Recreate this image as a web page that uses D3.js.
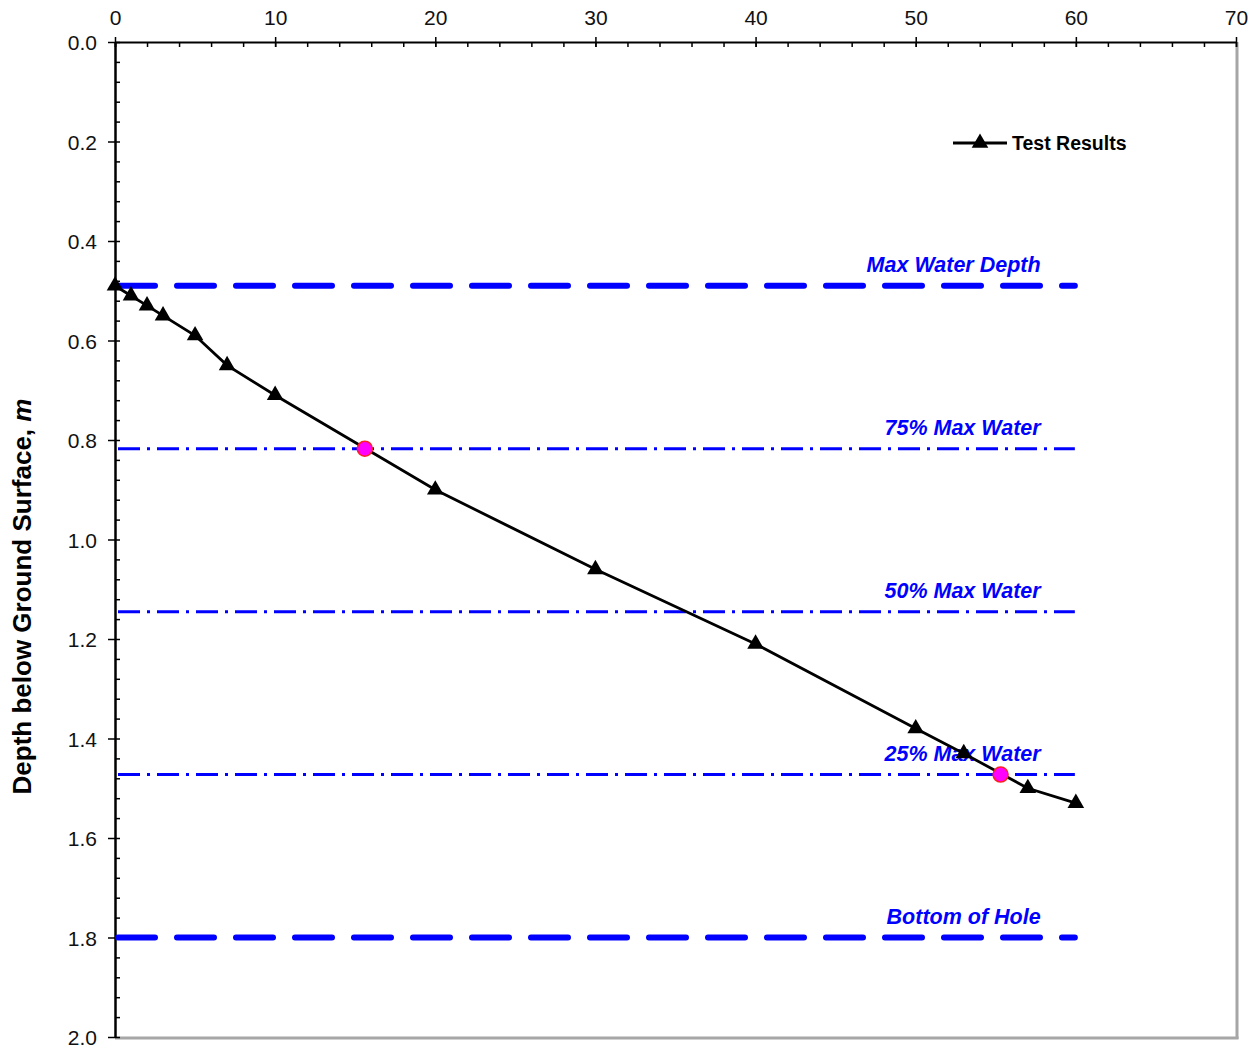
<!DOCTYPE html>
<html>
<head>
<meta charset="utf-8">
<title>Infiltration Test</title>
<style>
  body { margin: 0; background: #fff; }
  svg { font-family: "Liberation Sans", Arial, sans-serif; }
  .tick text { font-size: 21px; fill: #111; }
  .level-label { font-size: 21.5px; font-weight: bold; font-style: italic; fill: #0000ff; text-anchor: end; }
</style>
</head>
<body>
<script src="https://d3js.org/d3.v7.min.js"></script>
<script>
const width = 1258, height = 1048;

// test results: elapsed time vs depth of water surface
const times = [0, 1, 2, 3, 5, 7, 10, 20, 30, 40, 50, 53, 57, 60];
const depths = [0.49, 0.51, 0.53, 0.55, 0.59, 0.65, 0.71, 0.90, 1.06, 1.21, 1.38, 1.43, 1.50, 1.53];

// reference levels
const levelNames = ["Max Water Depth", "75% Max Water", "50% Max Water", "25% Max Water", "Bottom of Hole"];
const levelDepths = [0.49, 0.8175, 1.145, 1.4725, 1.80];
const levelStyles = ["dash", "dashdot", "dashdot", "dashdot", "dash"];
const levelEnd = 60;

// interpolated crossing points
const crossTimes = [15.6, 55.3];
const crossDepths = [0.8175, 1.4725];

const xTicks = [0, 10, 20, 30, 40, 50, 60, 70];
const yTicks = [0.0, 0.2, 0.4, 0.6, 0.8, 1.0, 1.2, 1.4, 1.6, 1.8, 2.0];

const svg = d3.select("body").append("svg")
  .attr("width", width)
  .attr("height", height);

const x = d3.scaleLinear().domain([0, 70]).range([115, 1236]);
const y = d3.scaleLinear().domain([0, 2]).range([42, 1037]);

// gray frame on right and bottom
svg.append("line")
  .attr("x1", x(70) + 1).attr("x2", x(70) + 1)
  .attr("y1", y(0)).attr("y2", y(2) + 2)
  .attr("stroke", "#a6a6a6").attr("stroke-width", 3);
svg.append("line")
  .attr("x1", x(0)).attr("x2", x(70) + 2.5)
  .attr("y1", y(2) + 1).attr("y2", y(2) + 1)
  .attr("stroke", "#a6a6a6").attr("stroke-width", 3);

// minor ticks
svg.append("g")
  .attr("transform", `translate(0,${y(0)})`)
  .call(d3.axisTop(x).tickValues(d3.range(0, 71, 2)).tickSize(-5).tickFormat(""))
  .call(g => g.select(".domain").remove())
  .selectAll("line").attr("stroke", "#000").attr("stroke-width", 1.5);
svg.append("g")
  .attr("transform", `translate(${x(0)},0)`)
  .call(d3.axisLeft(y).tickValues(d3.range(0, 51).map(i => i * 0.04)).tickSize(-5).tickFormat(""))
  .call(g => g.select(".domain").remove())
  .selectAll("line").attr("stroke", "#000").attr("stroke-width", 1.5);

// major axes
const xAxis = svg.append("g")
  .attr("transform", `translate(0,${y(0)})`)
  .call(d3.axisTop(x).tickValues(xTicks).tickSize(5).tickSizeOuter(0).tickPadding(12));
xAxis.selectAll(".tick line").attr("y2", -5).attr("y1", 5).attr("stroke-width", 1.5);
xAxis.select(".domain").attr("stroke-width", 2);

const yAxis = svg.append("g")
  .attr("transform", `translate(${x(0)},0)`)
  .call(d3.axisLeft(y).tickValues(yTicks).tickSize(7).tickSizeOuter(0).tickPadding(11).tickFormat(d3.format(".1f")));
yAxis.selectAll(".tick line").attr("x2", -7).attr("x1", 0).attr("stroke-width", 1.5);
yAxis.selectAll(".tick text").attr("dy", "0.36em");
yAxis.select(".domain").attr("stroke-width", 2.5);

// y-axis title
const title = svg.append("text")
  .attr("transform", `translate(31,${(y(0) + y(2)) / 2 + 57}) rotate(-90)`)
  .attr("text-anchor", "middle")
  .style("font-size", "26px")
  .style("font-weight", "bold")
  .attr("fill", "#000");
title.append("tspan").text("Depth below Ground Surface, ");
title.append("tspan").style("font-style", "italic").text("m");

// reference level lines
const levels = levelNames.map((name, i) => ({ name, depth: levelDepths[i], style: levelStyles[i] }));
svg.selectAll(".level")
  .data(levels)
  .enter().append("line")
  .attr("class", "level")
  .attr("x1", x(0) + 3).attr("x2", x(levelEnd) - 1)
  .attr("y1", d => y(d.depth)).attr("y2", d => y(d.depth))
  .attr("stroke", "#0000ff")
  .attr("stroke-width", d => d.style === "dash" ? 6 : 3)
  .attr("stroke-linecap", d => d.style === "dash" ? "round" : "butt")
  .attr("stroke-dasharray", d => d.style === "dash" ? "37 22" : "22 7 3 7");

svg.selectAll(".level-label")
  .data(levels)
  .enter().append("text")
  .attr("class", "level-label")
  .attr("x", x(57.8))
  .attr("y", d => y(d.depth) - 14)
  .text(d => d.name);

// test results line
const pts = times.map((t, i) => ({ t, d: depths[i] }));
svg.append("path")
  .datum(pts)
  .attr("fill", "none")
  .attr("stroke", "#000")
  .attr("stroke-width", 2.8)
  .attr("d", d3.line().x(d => x(d.t)).y(d => y(d.d)));

const tri = d3.symbol().type(d3.symbolTriangle).size(120);
svg.selectAll(".marker")
  .data(pts)
  .enter().append("path")
  .attr("class", "marker")
  .attr("transform", d => `translate(${x(d.t)},${y(d.d)})`)
  .attr("d", tri)
  .attr("fill", "#000");

// crossing points
svg.selectAll(".cross")
  .data(crossTimes.map((t, i) => ({ t, d: crossDepths[i] })))
  .enter().append("circle")
  .attr("cx", d => x(d.t))
  .attr("cy", d => y(d.d))
  .attr("r", 7.5)
  .attr("fill", "#ff00ff")
  .attr("stroke", "#ff2020")
  .attr("stroke-width", 1.5);

// legend
const lg = svg.append("g").attr("transform", "translate(953,143)");
lg.append("line").attr("x1", 0).attr("x2", 54).attr("stroke", "#000").attr("stroke-width", 3);
lg.append("path").attr("transform", "translate(27,0)").attr("d", tri).attr("fill", "#000");
lg.append("text")
  .attr("x", 59).attr("dy", "0.36em")
  .style("font-size", "19.5px").style("font-weight", "bold")
  .attr("fill", "#000")
  .text("Test Results");
</script>
</body>
</html>
